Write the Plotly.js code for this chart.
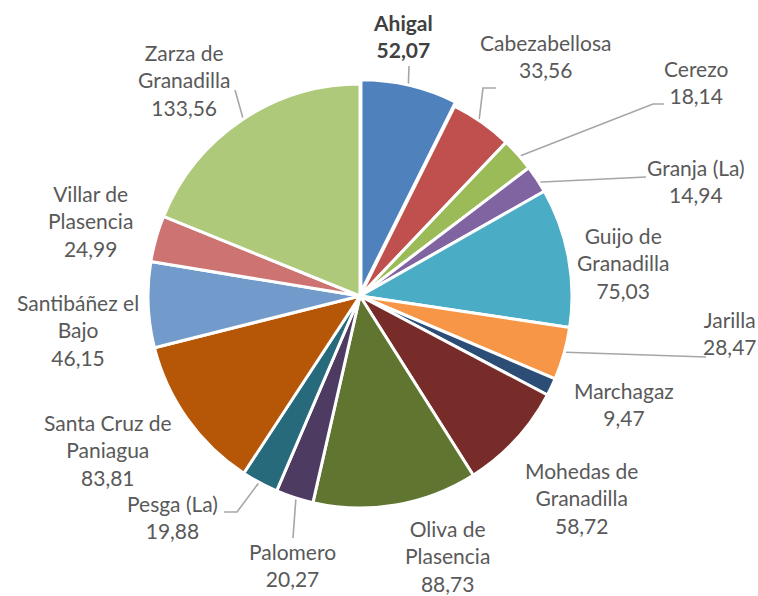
<!DOCTYPE html>
<html><head><meta charset="utf-8">
<script src="https://cdn.plot.ly/plotly-3.0.1.min.js"></script>
<style>html,body{margin:0;padding:0;background:#fff}#chart{width:758px;height:596px}</style>
</head><body><div id="chart"></div>
<script>
// ---- data ----
const categories = ["Ahigal","Cabezabellosa","Cerezo","Granja (La)","Guijo de Granadilla","Jarilla","Marchagaz","Mohedas de Granadilla","Oliva de Plasencia","Palomero","Pesga (La)","Santa Cruz de Paniagua","Santibáñez el Bajo","Villar de Plasencia","Zarza de Granadilla"];
const values = [52.07,33.56,18.14,14.94,75.03,28.47,9.47,58.72,88.73,20.27,19.88,83.81,46.15,24.99,133.56];
const labelLines = ["Ahigal","Cabezabellosa","Cerezo","Granja (La)","Guijo de<br>Granadilla","Jarilla","Marchagaz","Mohedas de<br>Granadilla","Oliva de<br>Plasencia","Palomero","Pesga (La)","Santa Cruz de<br>Paniagua","Santibáñez el<br>Bajo","Villar de<br>Plasencia","Zarza de<br>Granadilla"];

// ---- styles / layout ----
const colors = ["#4F81BD","#C0504D","#9BBB59","#8064A2","#4BACC6","#F79646","#2C4D75","#772C2A","#5F7530","#4D3B62","#276A7C","#B65708","#729ACA","#CD7371","#AFC97A"];
const pulls = [0.02,0,0,0,0,0,0,0,0,0,0,0,0,0,0];
const W = 758, H = 596;
const CX = 360, CY = 296, R = 212;
// label centres (px) and leader line points (px) after the slice-edge start
const labelPos = [[403,36],[545,56],[696,82],[696,181],[623,263],[730,333],[624,404],[581,498],[447,556],[292,565],[172,517],[108,450],[78,330],[90,221],[184,80]];
const leaders = [[[409,66]],[[483,88],[496,88]],[[653,104],[664,104]],[[646,177]],null,[[706,357]],null,null,null,[[293,538]],[[237,512],[224,512]],null,null,null,[[235,90]]];

const maxPull = Math.max(...pulls);
const half = R*(1+maxPull);
const domain = {x:[(CX-half)/W,(CX+half)/W], y:[1-(CY+half)/H, 1-(CY-half)/H]};
const px = x => x/W, py = y => 1 - y/H;
const fmt = v => v.toFixed(2).replace('.', ',');

const total = values.reduce((a,b)=>a+b,0);
let cum = 0;
const shapes = [], annotations = [];
values.forEach((v,i)=>{
  const mid = (cum + v/2)/total*2*Math.PI; cum += v;
  const rr = R*(1+pulls[i]) - 6;
  const sx = CX + rr*Math.sin(mid), sy = CY - rr*Math.cos(mid);
  if (leaders[i]) {
    let d = `M${px(sx)},${py(sy)}`;
    leaders[i].forEach(p=>{ d += ` L${px(p[0])},${py(p[1])}`; });
    shapes.push({type:'path', xref:'paper', yref:'paper', path:d, layer:'below', line:{color:'#A6A6A6', width:1.6}});
  }
  const bold = i===0;
  const txt = labelLines[i] + '<br>' + fmt(v);
  annotations.push({
    xref:'paper', yref:'paper', x:px(labelPos[i][0]), y:py(labelPos[i][1]),
    xanchor:'center', yanchor:'middle', align:'center', showarrow:false,
    text: bold ? '<b>'+txt+'</b>' : txt,
    font:{family:'Lato, "Open Sans", sans-serif', size:21, color: bold ? '#404040' : '#595959'}
  });
});

const trace = {
  type:'pie', labels:categories, values:values, sort:false, direction:'clockwise', rotation:0,
  pull:pulls, textinfo:'none', hoverinfo:'label+value', domain:domain,
  marker:{colors:colors, line:{color:'#FFFFFF', width:3}}
};
const layout = {
  width:W, height:H, margin:{l:0,r:0,t:0,b:0}, showlegend:false,
  paper_bgcolor:'#FFFFFF', shapes:shapes, annotations:annotations
};
Plotly.newPlot('chart',[trace],layout,{displayModeBar:false, staticPlot:true});
</script>
</body></html>
